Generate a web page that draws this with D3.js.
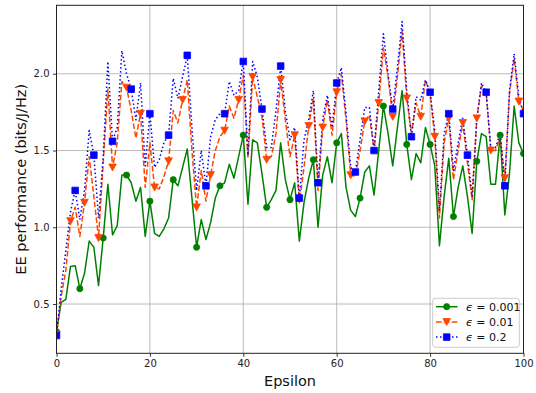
<!DOCTYPE html>
<html><head><meta charset="utf-8">
<script src="https://cdn.jsdelivr.net/npm/d3@7"></script>
<style>body{margin:0;background:#fff}svg{display:block}text{font-family:"DejaVu Sans",sans-serif}</style>
</head><body><div id="chart"></div>
<script>
const epsilonSteps = d3.range(0, 101);
const seriesLabels = ["0.001", "0.01", "0.2"];
const eeEps0001 = [0.32,0.51,0.53,0.745,0.75,0.60,0.70,0.91,0.87,0.62,0.93,1.28,0.95,1.01,1.34,1.34,1.29,1.17,1.26,0.94,1.17,0.96,0.94,0.99,1.06,1.31,1.27,1.39,1.51,1.19,0.87,1.05,0.92,1.03,1.19,1.27,1.29,1.41,1.32,1.46,1.60,1.15,1.57,1.55,1.35,1.13,1.18,1.24,1.55,1.31,1.18,1.29,0.91,1.16,1.32,1.44,1.00,1.34,1.46,1.29,1.55,1.61,1.26,1.11,1.07,1.19,1.36,1.40,1.21,1.50,1.79,1.61,1.40,1.65,1.89,1.54,1.31,1.48,1.42,1.65,1.54,1.40,0.88,1.20,1.45,1.07,1.26,1.40,1.20,0.96,1.43,1.61,1.59,1.28,1.28,1.60,1.08,1.35,1.79,1.55,1.48];
const eeEps001 = [0.30,0.55,0.72,1.04,1.13,0.94,1.16,1.46,1.20,0.93,1.42,1.90,1.39,1.55,1.95,1.91,1.76,1.58,1.74,1.26,1.55,1.26,1.25,1.33,1.43,1.76,1.68,1.83,1.96,1.50,1.13,1.37,1.17,1.34,1.50,1.59,1.63,1.79,1.71,1.83,1.99,1.45,1.98,1.85,1.72,1.44,1.46,1.61,1.96,1.70,1.46,1.60,1.16,1.39,1.66,1.84,1.24,1.65,1.83,1.60,1.88,2.00,1.70,1.34,1.33,1.50,1.69,1.73,1.50,1.81,2.17,1.98,1.72,1.98,2.28,1.84,1.61,1.81,1.72,1.96,1.87,1.59,1.06,1.55,1.71,1.31,1.50,1.68,1.42,1.18,1.71,1.92,1.88,1.50,1.50,1.59,1.32,1.87,2.10,1.82,1.76];
const eeEps02 = [0.295,0.60,0.85,1.10,1.24,1.05,1.24,1.63,1.47,1.06,1.46,2.08,1.56,1.65,2.15,2.00,1.90,1.70,1.94,1.40,1.74,1.39,1.44,1.55,1.60,1.97,1.84,1.98,2.12,1.65,1.24,1.50,1.27,1.59,1.70,1.74,1.74,1.95,1.86,1.89,2.08,1.47,2.08,1.98,1.77,1.52,1.52,1.76,2.05,1.76,1.57,1.65,1.19,1.57,1.70,1.89,1.29,1.70,1.86,1.65,1.94,2.04,1.74,1.39,1.36,1.57,1.78,1.78,1.50,1.89,2.26,2.00,1.77,2.04,2.34,1.89,1.59,1.85,1.83,1.96,1.88,1.63,1.11,1.61,1.74,1.37,1.55,1.71,1.47,1.20,1.70,1.94,1.88,1.52,1.52,1.61,1.27,1.89,2.13,1.85,1.74];
const xTicks = [0, 20, 40, 60, 80, 100];
const yTicks = [0.5, 1.0, 1.5, 2.0];

const W = 536, H = 393;
const L = 56.5, R = 523.5, T = 5.3, B = 353.3;
const svg = d3.select("#chart").append("svg").attr("width", W).attr("height", H);
const x = d3.scaleLinear().domain([0, 100]).range([L, R]);
const y = d3.scaleLinear().domain([0.179, 2.446]).range([B, T]);

// grid
const g = svg.append("g");
g.selectAll(".gx").data(xTicks).join("line").attr("x1", d => x(d)).attr("x2", d => x(d)).attr("y1", T).attr("y2", B).attr("stroke", "#b0b0b0").attr("stroke-width", 1).attr("stroke-opacity", 0.85);
g.selectAll(".gy").data(yTicks).join("line").attr("x1", L).attr("x2", R).attr("y1", d => y(d)).attr("y2", d => y(d)).attr("stroke", "#b0b0b0").attr("stroke-width", 1).attr("stroke-opacity", 0.85);

const series = [
  {vals: eeEps0001, color: "green", dash: null, marker: "circle", every: 5},
  {vals: eeEps001, color: "orangered", dash: "5.5,2.4", marker: "tri", every: 3},
  {vals: eeEps02, color: "blue", dash: "1.5,2.5", marker: "square", every: 4}
];
const clip = svg.append("clipPath").attr("id", "cp").append("rect").attr("x", L).attr("y", T).attr("width", R - L).attr("height", B - T);
const plot = svg.append("g").attr("clip-path", "url(#cp)");
const line = d3.line().x((d, i) => x(epsilonSteps[i])).y(d => y(d));

function markerPath(type) {
  if (type === "circle") return d3.symbol(d3.symbolCircle, 30)();
  if (type === "square") return "M-3.3,-3.3H3.3V3.3H-3.3Z";
  return "M0,3.6L-3.8,-3.4L3.8,-3.4Z";
}
series.forEach(s => {
  plot.append("path").attr("d", line(s.vals)).attr("fill", "none").attr("stroke", s.color).attr("stroke-width", 1.5)
    .attr("stroke-dasharray", s.dash).attr("stroke-linejoin", "round");
});
series.forEach(s => {
  const pts = epsilonSteps.filter((e, i) => i % s.every === 0);
  plot.selectAll(null).data(pts).join("path").attr("d", markerPath(s.marker))
    .attr("transform", e => `translate(${x(e)},${y(s.vals[e])})`)
    .attr("fill", s.color).attr("stroke", s.color).attr("stroke-width", 0.8);
});

// axes
const xa = svg.append("g").attr("transform", `translate(0,${B})`).call(d3.axisBottom(x).tickValues(xTicks).tickFormat(d3.format("d")).tickSize(3.5).tickPadding(3));
const ya = svg.append("g").attr("transform", `translate(${L},0)`).call(d3.axisLeft(y).tickValues(yTicks).tickFormat(d3.format(".1f")).tickSize(3.5).tickPadding(3.5));
[xa, ya].forEach(a => {
  a.select(".domain").remove();
  a.selectAll("text").attr("font-size", 10).attr("fill", "#222").style("font-family", "DejaVu Sans");
  a.selectAll("line").attr("stroke", "#222").attr("stroke-width", 0.9);
});
svg.append("rect").attr("x", L).attr("y", T).attr("width", R - L).attr("height", B - T).attr("fill", "none").attr("stroke", "#222").attr("stroke-width", 1);

svg.append("text").attr("x", (L + R) / 2).attr("y", 385.5).attr("text-anchor", "middle").attr("font-size", 14.5).attr("fill", "#111").text("Epsilon");
svg.append("text").attr("transform", `translate(26,${(T + B) / 2}) rotate(-90)`).attr("text-anchor", "middle").attr("font-size", 14.5).attr("fill", "#111").text("EE performance (bits/J/Hz)");

// legend
const lg = svg.append("g");
lg.append("rect").attr("x", 432.7).attr("y", 298.3).attr("width", 86.6).attr("height", 49).attr("rx", 2.5)
  .attr("fill", "#fff").attr("fill-opacity", 0.8).attr("stroke", "#cccccc").attr("stroke-width", 1);
series.forEach((s, k) => {
  const cy = 306.7 + k * 15.2;
  lg.append("line").attr("x1", 436).attr("x2", 457.5).attr("y1", cy).attr("y2", cy).attr("stroke", s.color).attr("stroke-width", 1.5).attr("stroke-dasharray", s.dash);
  lg.append("path").attr("d", markerPath(s.marker)).attr("transform", `translate(446.7,${cy})`).attr("fill", s.color).attr("stroke", s.color).attr("stroke-width", 0.8);
  const t = lg.append("text").attr("x", 466).attr("y", cy + 4).attr("font-size", 11).attr("fill", "#111");
  t.append("tspan").attr("font-style", "italic").text("ϵ");
  t.append("tspan").text(" = " + seriesLabels[k]);
});
</script></body></html>
